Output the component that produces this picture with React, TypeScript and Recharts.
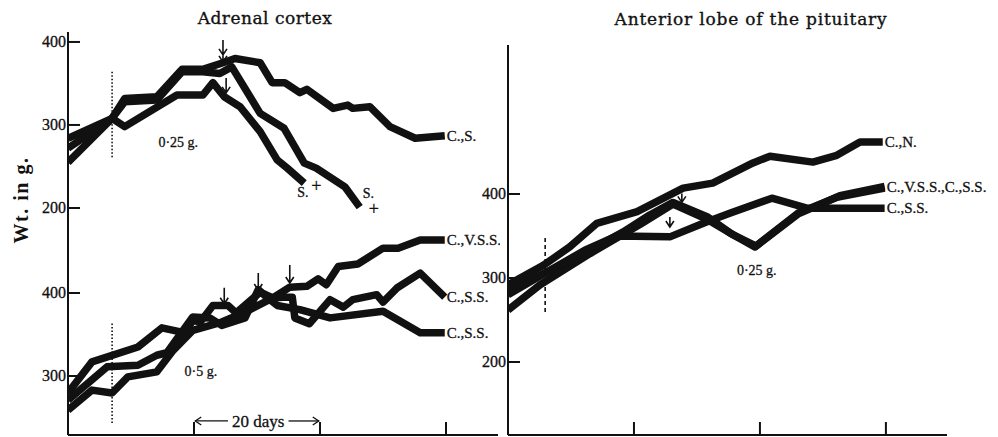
import React from "react";
import { LineChart, Line, XAxis, YAxis, ReferenceLine, ReferenceDot } from "recharts";

type Pt = { day: number; wt: number };
const pts = (rows: number[][]): Pt[] => rows.map(([day, wt]) => ({ day, wt }));

// Adrenal cortex, 0.25 g (upper group, left panel)
const cortexLowCS = pts([
  [0, 284], [7, 308], [9, 332], [14.1, 334], [18.1, 367], [21.4, 367], [24.6, 375],
  [26.5, 380], [30.5, 375], [32.4, 351], [34.4, 351], [36.8, 339], [37.9, 343],
  [42.1, 320], [44.4, 324], [45.2, 320], [47.9, 322], [51.1, 298], [55.1, 284], [59.8, 287],
]);
const cortexLowS1 = pts([
  [0, 255], [7, 308], [9, 328], [14.1, 330], [18.1, 364], [21.4, 364], [24.1, 362],
  [26, 370], [30.5, 314], [34.3, 296], [37.5, 254], [39.4, 248], [44, 225], [46.3, 201],
]);
const cortexLowS2 = pts([
  [0, 272], [7, 308], [9, 298], [17.3, 336], [21.4, 336], [23, 351], [24.8, 334],
  [27.3, 322], [30.5, 292], [33.2, 258], [34.8, 248], [37.5, 230],
]);

// Adrenal cortex, 0.5 g (lower group, left panel)
const cortexHighVSS = pts([
  [0, 259], [3.8, 283], [7, 279.5], [9.5, 299], [14.1, 305], [16.7, 331], [19.8, 355],
  [24.4, 365], [28.1, 377], [32.5, 394], [35.2, 407], [37.9, 408], [39.7, 417], [41, 410],
  [42.9, 432], [46, 435], [50, 454], [52.4, 454], [55.9, 464], [59.8, 464],
]);
const cortexHighSS1 = pts([
  [0, 279.5], [3.8, 317], [11.1, 335], [14.9, 358], [18.6, 352], [19.8, 367], [21, 365],
  [23, 385], [25.4, 385], [26.7, 376], [30.5, 401], [32.5, 394], [34.1, 395], [35.6, 395],
  [36, 370], [38.3, 363], [41.6, 392], [43.7, 383], [45.2, 392], [49, 398], [50, 389],
  [52.2, 406], [55.9, 424], [59.8, 395],
]);
const cortexHighSS2 = pts([
  [0, 271], [6.2, 311], [11.1, 313], [14.1, 325], [15.7, 328], [19.8, 371], [22.5, 370],
  [24.4, 361], [28.1, 370], [30.2, 404], [31.4, 396], [33.2, 385], [36.8, 380],
  [41.6, 370], [50, 378], [55.9, 352], [59.8, 352],
]);

// Anterior lobe of the pituitary, 0.25 g (right panel)
const pitCN = pts([
  [0, 292], [5.6, 315], [9.8, 337], [14.1, 365], [20.5, 379], [27.8, 407], [32.5, 413],
  [38.9, 437], [41.6, 445], [48.4, 438], [52.2, 446], [55.9, 462], [59.5, 462],
]);
const pitVSS = pts([
  [0, 286], [6.2, 307], [13, 333], [18.3, 355], [22.5, 375], [26.2, 390], [31.6, 373],
  [35.2, 354], [39.2, 337], [46, 377], [52.2, 396], [59.8, 407],
]);
const pitSS1 = pts([
  [0, 262], [5.1, 292], [13, 329], [21, 364], [26.2, 388], [31.6, 370], [35.6, 352],
  [39.4, 338], [46, 376], [52.7, 398], [59.8, 409],
]);
const pitSS2 = pts([
  [0, 280], [5.9, 306], [12.2, 333], [17.3, 350], [25.7, 349], [31.6, 367], [35.2, 377],
  [41.9, 395], [47.6, 383], [59.8, 383],
]);

const DAY_TICKS = [20, 40, 60];
const TOP_TICKS = [200, 300, 400];
const BOTTOM_TICKS = [300, 400];
const PIT_TICKS = [200, 300, 400];

const INK = "#111";
const SERIF = '"Liberation Serif", "DejaVu Serif", serif';
const TITLE = '"DejaVu Serif", "Liberation Serif", serif';

function YTick(props: any) {
  const { x, y, payload } = props;
  return (
    <g>
      <line x1={x} x2={x + 12} y1={y} y2={y} stroke={INK} strokeWidth={2} />
      <text
        x={x - 2}
        y={y}
        dy={5}
        textAnchor="end"
        fontSize={16}
        fontFamily={SERIF}
        fill={INK}
        stroke={INK}
        strokeWidth={0.3}
      >
        {payload.value}
      </text>
    </g>
  );
}

function XTick(props: any) {
  const { x, y } = props;
  return <line x1={x} x2={x} y1={y} y2={y - 13} stroke={INK} strokeWidth={2} />;
}

function arrow(len: number, double = false) {
  return (p: any) => {
    const { cx, cy } = p;
    let d = `M${cx},${cy - len} L${cx},${cy} M${cx - 4},${cy - 6} L${cx},${cy} L${cx + 4},${cy - 6}`;
    if (double) d += ` M${cx - 4},${cy - 13} L${cx},${cy - 7} L${cx + 4},${cy - 13}`;
    return <path d={d} stroke={INK} strokeWidth={1.6} fill="none" />;
  };
}

function note(text: string, dx = 0, dy = 5, anchor = "middle", size = 14) {
  return (p: any) => (
    <text
      x={p.cx + dx}
      y={p.cy + dy}
      textAnchor={anchor}
      fontSize={size}
      fontFamily={SERIF}
      fill={INK}
      stroke={INK}
      strokeWidth={0.3}
    >
      {text}
    </text>
  );
}

function chevron(dir: number) {
  return (p: any) => {
    const { cx, cy } = p;
    return (
      <path
        d={`M${cx + dir * 6},${cy - 4} L${cx},${cy} L${cx + dir * 6},${cy + 4}`}
        stroke={INK}
        strokeWidth={1.3}
        fill="none"
      />
    );
  };
}

const lineProps = {
  type: "linear" as const,
  dataKey: "wt",
  stroke: INK,
  strokeWidth: 7.5,
  strokeLinejoin: "round" as const,
  dot: false,
  activeDot: false,
  isAnimationActive: false,
};

const layer: React.CSSProperties = { position: "absolute", top: 0 };

export default function App() {
  return (
    <div style={{ position: "relative", width: 998, height: 437, background: "#fff", overflow: "hidden" }}>
      <style>{`body{margin:0}`}</style>

      {/* left panel, upper group (0.25 g) with axes */}
      <div style={{ ...layer, left: 0 }}>
        <LineChart width={500} height={437} margin={{ top: 32, right: 2, bottom: 0, left: 28 }}>
          <XAxis
            type="number"
            dataKey="day"
            domain={[0, 68.25]}
            ticks={DAY_TICKS}
            interval={0}
            height={2}
            tickLine={false}
            tickSize={0}
            tickMargin={0}
            tick={(p: any) => <XTick {...p} />}
            axisLine={{ stroke: INK, strokeWidth: 2 }}
            allowDataOverflow
          />
          <YAxis
            type="number"
            domain={[-73.5, 412]}
            ticks={TOP_TICKS}
            interval={0}
            width={40}
            tickLine={false}
            tickSize={0}
            tickMargin={0}
            tick={(p: any) => <YTick {...p} />}
            axisLine={{ stroke: INK, strokeWidth: 2 }}
            allowDataOverflow
          />
          <Line {...lineProps} data={cortexLowCS} />
          <Line {...lineProps} data={cortexLowS1} />
          <Line {...lineProps} data={cortexLowS2} />
          <ReferenceLine segment={[{ x: 7, y: 261 }, { x: 7, y: 366 }]} stroke={INK} strokeWidth={1.6} strokeDasharray="1.5 2" />
          <ReferenceDot x={24.6} y={376} r={1} shape={arrow(22, true)} />
          <ReferenceDot x={25.1} y={338.6} r={1} shape={arrow(15)} />
          <ReferenceDot x={17.5} y={279.5} r={1} shape={note("0·25 g.")} />
          <ReferenceDot x={59.8} y={287} r={1} shape={note("C.,S.", 2, 5, "start", 15)} />
          <ReferenceDot x={37.5} y={230} r={1} shape={note("S.", -7, 14, "start")} />
          <ReferenceDot x={37.5} y={230} r={1} shape={note("+", 12, 9, "middle", 18)} />
          <ReferenceDot x={46.3} y={201} r={1} shape={note("S.", 3, -9, "start")} />
          <ReferenceDot x={46.3} y={201} r={1} shape={note("+", 14, 8, "middle", 18)} />
        </LineChart>
      </div>

      {/* left panel, lower group (0.5 g) */}
      <div style={{ ...layer, left: 0 }}>
        <LineChart width={500} height={437} margin={{ top: 32, right: 2, bottom: 2, left: 28 }}>
          <XAxis type="number" dataKey="day" domain={[0, 68.25]} hide allowDataOverflow />
          <YAxis
            type="number"
            domain={[228.9, 714.5]}
            ticks={BOTTOM_TICKS}
            interval={0}
            width={40}
            tickLine={false}
            tickSize={0}
            tickMargin={0}
            tick={(p: any) => <YTick {...p} />}
            axisLine={false}
            allowDataOverflow
          />
          <Line {...lineProps} data={cortexHighVSS} />
          <Line {...lineProps} data={cortexHighSS1} />
          <Line {...lineProps} data={cortexHighSS2} />
          <ReferenceLine segment={[{ x: 7, y: 243.4 }, { x: 7, y: 363.9 }]} stroke={INK} strokeWidth={1.6} strokeDasharray="1.5 2" />
          <ReferenceDot x={24.8} y={387} r={1} shape={arrow(16)} />
          <ReferenceDot x={30.2} y={403.6} r={1} shape={arrow(17)} />
          <ReferenceDot x={35.2} y={412} r={1} shape={arrow(18)} />
          <ReferenceDot x={21.1} y={306} r={1} shape={note("0·5 g.")} />
          <ReferenceLine segment={[{ x: 20.2, y: 245.8 }, { x: 25.4, y: 245.8 }]} stroke={INK} strokeWidth={1.3} />
          <ReferenceLine segment={[{ x: 35, y: 245.8 }, { x: 39.8, y: 245.8 }]} stroke={INK} strokeWidth={1.3} />
          <ReferenceDot x={20.2} y={245.8} r={1} shape={chevron(1)} />
          <ReferenceDot x={39.8} y={245.8} r={1} shape={chevron(-1)} />
          <ReferenceDot x={30.2} y={245.8} r={1} shape={note("20 days", 0, 6, "middle", 17)} />
          <ReferenceDot x={59.8} y={464} r={1} shape={note("C.,V.S.S.", 2, 5, "start", 15)} />
          <ReferenceDot x={59.8} y={395} r={1} shape={note("C.,S.S.", 2, 5, "start", 15)} />
          <ReferenceDot x={59.8} y={352} r={1} shape={note("C.,S.S.", 2, 5, "start", 15)} />
        </LineChart>
      </div>

      {/* right panel */}
      <div style={{ ...layer, left: 450 }}>
        <LineChart width={548} height={437} margin={{ top: 45, right: 51, bottom: 0, left: 18 }}>
          <XAxis
            type="number"
            dataKey="day"
            domain={[0, 69.7]}
            ticks={DAY_TICKS}
            interval={0}
            height={2}
            tickLine={false}
            tickSize={0}
            tickMargin={0}
            tick={(p: any) => <XTick {...p} />}
            axisLine={{ stroke: INK, strokeWidth: 2 }}
            allowDataOverflow
          />
          <YAxis
            type="number"
            domain={[113.1, 577.4]}
            ticks={PIT_TICKS}
            interval={0}
            width={40}
            tickLine={false}
            tickSize={0}
            tickMargin={0}
            tick={(p: any) => <YTick {...p} />}
            axisLine={{ stroke: INK, strokeWidth: 2 }}
            allowDataOverflow
          />
          <Line {...lineProps} data={pitCN} />
          <Line {...lineProps} data={pitVSS} />
          <Line {...lineProps} data={pitSS1} />
          <Line {...lineProps} data={pitSS2} />
          <ReferenceLine segment={[{ x: 5.9, y: 259.5 }, { x: 5.9, y: 348.8 }]} stroke={INK} strokeWidth={1.6} strokeDasharray="4 3" />
          <ReferenceDot x={27.6} y={390} r={1} shape={arrow(9)} />
          <ReferenceDot x={25.7} y={360.7} r={1} shape={arrow(10)} />
          <ReferenceDot x={39.5} y={309.5} r={1} shape={note("0·25 g.")} />
          <ReferenceDot x={59.5} y={462} r={1} shape={note("C.,N.", 2, 5, "start", 15)} />
          <ReferenceDot x={59.8} y={408} r={1} shape={note("C.,V.S.S.,C.,S.S.", 2, 5, "start", 15)} />
          <ReferenceDot x={59.8} y={383} r={1} shape={note("C.,S.S.", 2, 5, "start", 15)} />
        </LineChart>
      </div>

      {/* titles and shared axis label */}
      <svg width={998} height={437} style={{ ...layer, left: 0, pointerEvents: "none" }}>
        <text x={265} y={24} textAnchor="middle" fontSize={17} fontFamily={TITLE} fill={INK} stroke={INK} strokeWidth={0.35} letterSpacing={0.5}>
          Adrenal cortex
        </text>
        <text x={751} y={25} textAnchor="middle" fontSize={17} fontFamily={TITLE} fill={INK} stroke={INK} strokeWidth={0.35} letterSpacing={0.8}>
          Anterior lobe of the pituitary
        </text>
        <text
          transform="translate(28,200) rotate(-90)"
          textAnchor="middle"
          fontSize={20}
          fontWeight="bold"
          fontFamily={SERIF}
          fill={INK}
          letterSpacing={1.5}
        >
          Wt. in g.
        </text>
      </svg>
    </div>
  );
}
